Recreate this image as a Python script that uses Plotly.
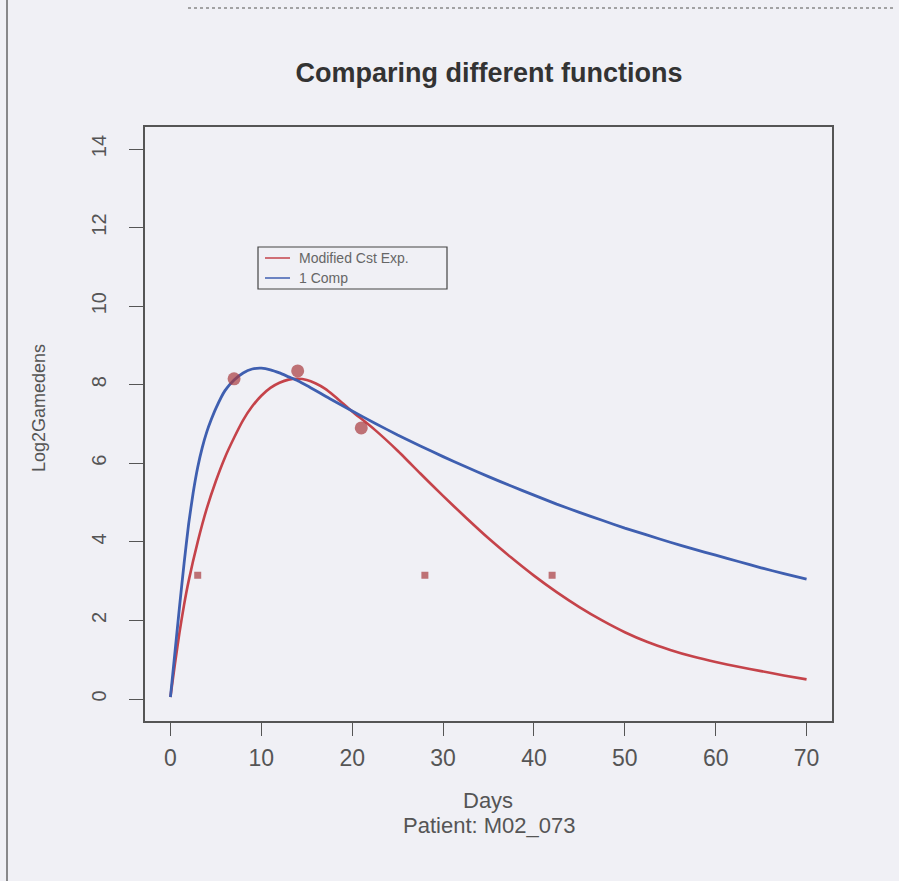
import plotly.graph_objects as go

# Observed log2 gametocyte densities
obs_days = [3, 7, 14, 21, 28, 42]
obs_log2 = [3.15, 8.15, 8.35, 6.9, 3.15, 3.15]
obs_size = [7, 13, 13, 13, 7, 7]
obs_symbol = ["square", "circle", "circle", "circle", "square", "square"]

# Fitted curve: modified constant-exponential model
mod_days = [0, 0.5, 1, 1.5, 2, 3, 4, 5, 6, 7, 8, 9, 10, 11, 12, 13, 14, 15, 16, 17, 18, 19, 20,
            22.5, 25, 27.5, 30, 32.5, 35, 37.5, 40, 42.5, 45, 47.5, 50, 52.5, 55, 57.5, 60,
            62.5, 65, 67.5, 70]
mod_log2 = [0.05, 0.9, 1.7, 2.4, 3.0, 4.0, 4.85, 5.55, 6.15, 6.65, 7.1, 7.45, 7.72, 7.92, 8.05,
            8.13, 8.15, 8.12, 8.03, 7.9, 7.72, 7.52, 7.32,
            6.85, 6.32, 5.74, 5.17, 4.62, 4.09, 3.6, 3.14, 2.72, 2.34, 2.0, 1.7, 1.45, 1.25,
            1.08, 0.94, 0.82, 0.71, 0.6, 0.5]

# Fitted curve: one-compartment model
one_days = [0, 0.5, 1, 1.5, 2, 2.5, 3, 3.5, 4, 4.5, 5, 6, 7, 8, 9, 10, 11, 12, 13, 14, 15,
            17.5, 20, 22.5, 25, 27.5, 30, 32.5, 35, 37.5, 40, 42.5, 45, 47.5, 50, 52.5, 55,
            57.5, 60, 62.5, 65, 67.5, 70]
one_log2 = [0.05, 1.2, 2.35, 3.45, 4.45, 5.25, 5.9, 6.4, 6.8, 7.12, 7.4, 7.85, 8.12, 8.3, 8.4,
            8.42, 8.38, 8.3, 8.2, 8.1, 7.98, 7.65, 7.33, 7.02, 6.72, 6.44, 6.17, 5.91, 5.66,
            5.42, 5.19, 4.96, 4.75, 4.55, 4.35, 4.17, 3.99, 3.82, 3.66, 3.5, 3.34, 3.19, 3.05]

x_ticks = [0, 10, 20, 30, 40, 50, 60, 70]
y_ticks = [0, 2, 4, 6, 8, 10, 12, 14]

legend_labels = ["Modified Cst Exp.", "1 Comp"]

RED = "#c5434a"
BLUE = "#3f5fb0"
PT = "#a83a3e"
INK = "#555555"
BG = "#f0f0f5"

fig = go.Figure()
fig.add_trace(go.Scatter(x=mod_days, y=mod_log2, mode="lines", name=legend_labels[0],
                         showlegend=False,
                         line=dict(color=RED, width=2.6, shape="spline", smoothing=0.5)))
fig.add_trace(go.Scatter(x=one_days, y=one_log2, mode="lines", name=legend_labels[1],
                         showlegend=False,
                         line=dict(color=BLUE, width=2.8, shape="spline", smoothing=0.5)))
fig.add_trace(go.Scatter(x=obs_days, y=obs_log2, mode="markers", showlegend=False,
                         marker=dict(color=PT, size=obs_size, symbol=obs_symbol,
                                     line=dict(width=0))))

L, R, T, B = 145, 67, 127, 160
W, H = 899, 881
pw, ph = W - L - R, H - T - B

def px(p):
    return (p - L) / pw

def py(p):
    return (H - B - p) / ph

# Boxed key drawn in the upper-left of the panel
key_shapes = [
    dict(type="rect", xref="paper", yref="paper", x0=px(258), x1=px(447), y0=py(289), y1=py(247),
         line=dict(color="#444444", width=1.2), fillcolor=BG),
    dict(type="line", xref="paper", yref="paper", x0=px(265), x1=px(290), y0=py(258), y1=py(258),
         line=dict(color=RED, width=1.5)),
    dict(type="line", xref="paper", yref="paper", x0=px(265), x1=px(290), y0=py(278), y1=py(278),
         line=dict(color=BLUE, width=1.5)),
]
key_notes = [
    dict(text=legend_labels[0], xref="paper", yref="paper", x=px(297), y=py(258),
         xanchor="left", yanchor="middle", showarrow=False, font=dict(size=14, color="#666666")),
    dict(text=legend_labels[1], xref="paper", yref="paper", x=px(297), y=py(278),
         xanchor="left", yanchor="middle", showarrow=False, font=dict(size=14, color="#666666")),
]

fig.update_layout(
    width=W, height=H,
    margin=dict(l=L, r=R, t=T, b=B),
    paper_bgcolor=BG, plot_bgcolor=BG,
    font=dict(family="Liberation Sans, Arial, sans-serif", color=INK),
    title=dict(text="<b>Comparing different functions</b>", xref="container", x=489 / W,
               xanchor="center", y=1 - 73 / H, yanchor="middle",
               font=dict(size=27, color="#333333")),
    xaxis=dict(range=[-2.8, 72.8], tickvals=x_ticks, ticks="outside", ticklen=13,
               tickcolor="#555555", showgrid=False, zeroline=False,
               showline=True, linecolor="#555555", linewidth=1.5, mirror=True,
               tickfont=dict(size=23, color=INK), ticklabelstandoff=3),
    yaxis=dict(range=[-0.56, 14.56], tickvals=y_ticks, ticks="outside", ticklen=14,
               tickcolor="#555555", showgrid=False, zeroline=False,
               showline=True, linecolor="#555555", linewidth=1.5, mirror=True,
               tickangle=-90, tickfont=dict(size=20, color=INK), ticklabelstandoff=15),
    annotations=[
        dict(text="Log2Gamedens", xref="paper", yref="paper", x=px(39), y=py(408),
             textangle=-90, showarrow=False, font=dict(size=18, color=INK),
             xanchor="center", yanchor="middle"),
        dict(text="Days", xref="paper", yref="paper", x=px(488), y=py(800),
             showarrow=False, font=dict(size=22, color=INK),
             xanchor="center", yanchor="middle"),
        dict(text="Patient: M02_073", xref="paper", yref="paper", x=px(489), y=py(825),
             showarrow=False, font=dict(size=22, color=INK),
             xanchor="center", yanchor="middle"),
    ] + key_notes,
    shapes=[
        dict(type="line", xref="paper", yref="paper", x0=px(7), x1=px(7), y0=py(0), y1=py(H),
             line=dict(color="#666666", width=1.5)),
        dict(type="line", xref="paper", yref="paper", x0=px(188), x1=px(896), y0=py(8), y1=py(8),
             line=dict(color="#888888", width=1.5, dash="dot")),
    ] + key_shapes,
)

fig.write_html("out.html")
